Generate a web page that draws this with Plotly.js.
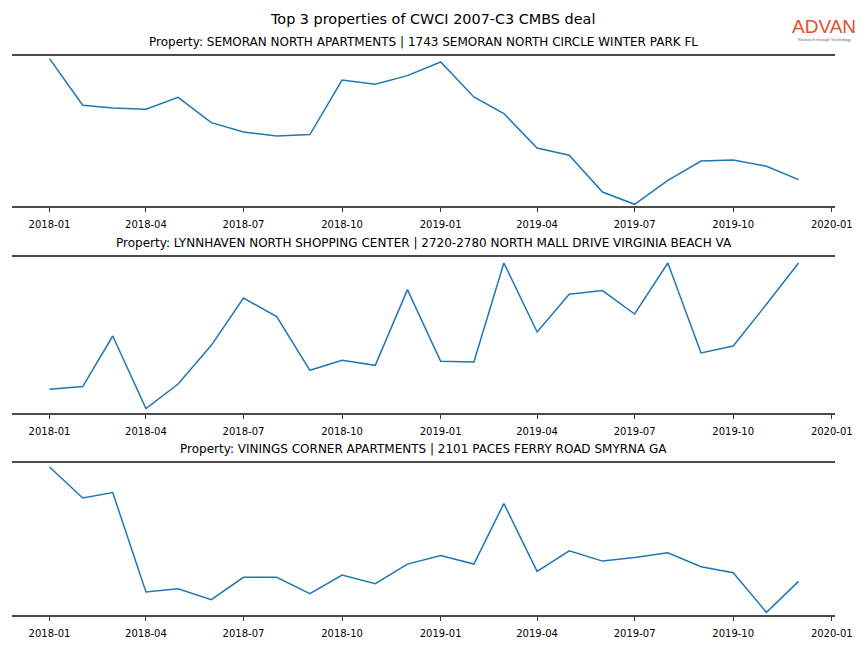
<!DOCTYPE html>
<html>
<head>
<meta charset="utf-8">
<script src="https://cdn.plot.ly/plotly-3.0.1.min.js"></script>
<style>html,body{margin:0;padding:0;background:#fff;}#chart{width:864px;height:648px;}</style>
</head>
<body>
<div id="chart"></div>
<script>
const months = ['2018-01-01','2018-02-01','2018-03-01','2018-04-01','2018-05-01','2018-06-01',
  '2018-07-01','2018-08-01','2018-09-01','2018-10-01','2018-11-01','2018-12-01',
  '2019-01-01','2019-02-01','2019-03-01','2019-04-01','2019-05-01','2019-06-01',
  '2019-07-01','2019-08-01','2019-09-01','2019-10-01','2019-11-01','2019-12-01'];

const semoran = [147.4,100.7,98,96.7,108.7,83.4,74,70,71.4,126,121.7,130.4,
  144,109,92.4,58,50.7,14,1.7,25.7,45,46,39.7,26.4];
const lynnhaven = [23.7,26.4,77,4.4,29,67.7,115,96.4,42.7,52.7,47.7,123.4,
  51.7,51,150,81,118.7,122.4,99,150,60,67,108.7,150];
const vinings = [148.3,117.3,122.7,23,26.3,15.3,37.7,37.7,21.3,40,31.3,51,
  59.7,51,111.7,43.7,64.3,54,57.7,62.3,48.3,42.3,2.7,33.7];

const mainTitle = 'Top 3 properties of CWCI 2007-C3 CMBS deal';
const panelTitles = [
  'Property: SEMORAN NORTH APARTMENTS | 1743 SEMORAN NORTH CIRCLE WINTER PARK FL',
  'Property: LYNNHAVEN NORTH SHOPPING CENTER | 2720-2780 NORTH MALL DRIVE VIRGINIA BEACH VA',
  'Property: VININGS CORNER APARTMENTS | 2101 PACES FERRY ROAD SMYRNA GA'
];
const series = [semoran, lynnhaven, vinings];
const yRanges = [[0,150],[0,156],[0,152.3]];

const H = 648, W = 864;
const pxTop = [56, 257, 463];
const pxBot = [206, 413, 615];
const font = 'DejaVu Sans, sans-serif';

const traces = series.map((s,i)=>({
  x: months, y: s, type:'scatter', mode:'lines',
  line:{color:'#1f77b4', width:1.5},
  xaxis: i===0?'x':'x'+(i+1), yaxis: i===0?'y':'y'+(i+1),
  showlegend:false, hoverinfo:'skip'
}));

const layout = {
  width: W, height: H,
  margin:{l:0,r:0,t:0,b:0},
  paper_bgcolor:'#fff', plot_bgcolor:'#fff',
  font:{family:font, color:'#000'},
  annotations: [],
  showlegend:false
};

for (let i=0;i<3;i++){
  const sx = i===0?'':String(i+1);
  layout['xaxis'+sx] = {
    type:'date', domain:[12/W, 835/W],
    range:['2017-11-27','2020-01-04'],
    anchor: 'y'+sx,
    tickformat:'%Y-%m', dtick:'M3', tick0:'2018-01-01',
    ticks:'outside', ticklen:3.5, tickwidth:0.8, tickcolor:'#000',
    ticklabelstandoff:4,
    tickfont:{family:font, size:10, color:'#000'},
    showline:true, mirror:true, linecolor:'#4a4a4a', linewidth:2,
    showgrid:false, zeroline:false, fixedrange:true
  };
  layout['yaxis'+sx] = {
    domain:[1-pxBot[i]/H, 1-pxTop[i]/H],
    range: yRanges[i], anchor:'x'+sx,
    showticklabels:false, ticks:'', showline:false,
    showgrid:false, zeroline:false, fixedrange:true
  };
  layout.annotations.push({
    text: panelTitles[i], xref:'paper', yref:'paper',
    x: (12+835)/2/W, y: 1-(pxTop[i]-14)/H,
    xanchor:'center', yanchor:'middle', showarrow:false,
    font:{family:font, size:12, color:'#000'}
  });
}

layout.annotations.push({
  text: mainTitle, xref:'paper', yref:'paper', x:0.5, y:1-19/H,
  xanchor:'center', yanchor:'middle', showarrow:false,
  font:{family:font, size:14.4, color:'#000'}
});
layout.annotations.push({
  text:'ADVAN', xref:'paper', yref:'paper', x:824/W, y:1-27/H,
  xanchor:'center', yanchor:'middle', showarrow:false,
  font:{family:'Liberation Sans, Arial, sans-serif', size:19, color:'#e2502a'}
});
layout.annotations.push({
  text:'Research through Technology', xref:'paper', yref:'paper', x:824/W, y:1-39.5/H,
  xanchor:'center', yanchor:'middle', showarrow:false,
  font:{family:'Liberation Sans, Arial, sans-serif', size:4, color:'#666'}
});

Plotly.newPlot('chart', traces, layout, {displayModeBar:false, staticPlot:true});
</script>
</body>
</html>
